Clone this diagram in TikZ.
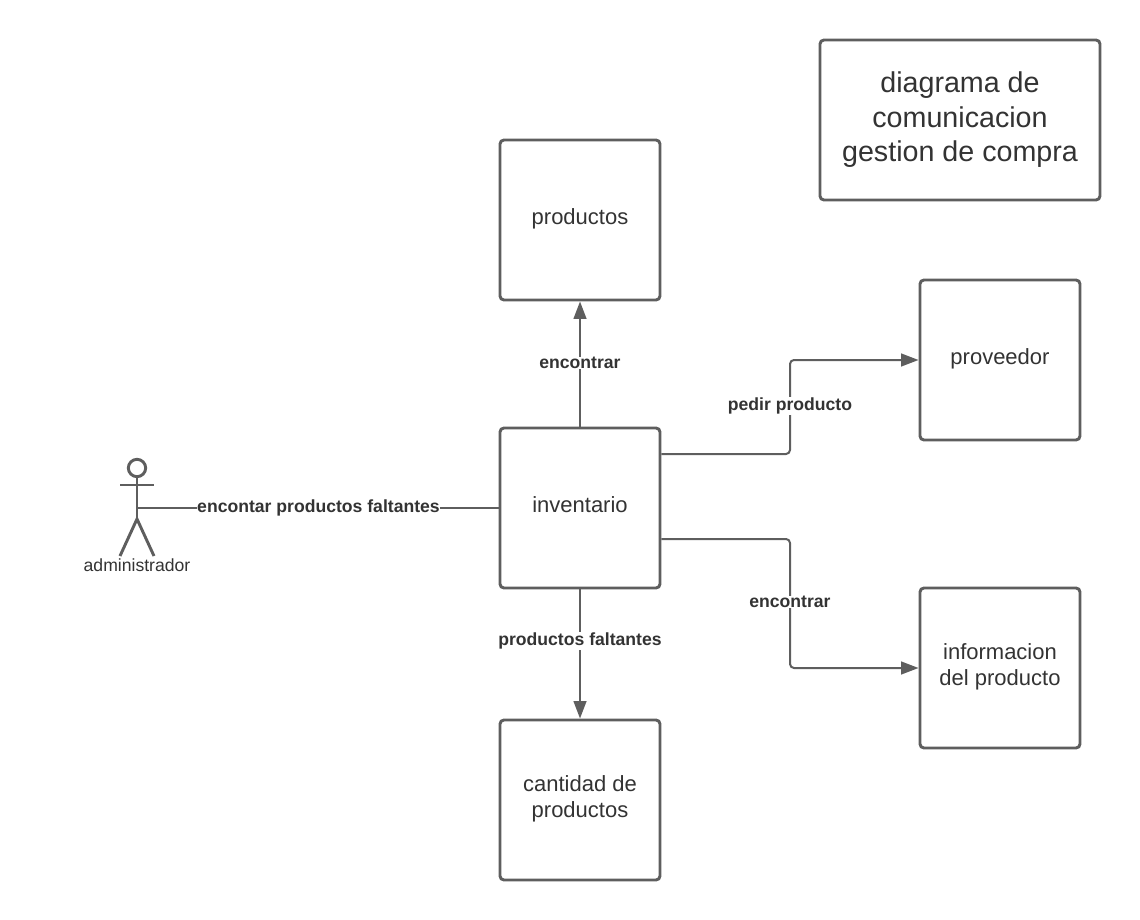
\documentclass[tikz,border=0pt]{standalone}
\usepackage{fontspec}
\setmainfont{Liberation Sans}
\usetikzlibrary{arrows.meta,positioning,calc}
\definecolor{lineGrey}{HTML}{5E5E5E}
\definecolor{textGrey}{HTML}{333333}
\tikzset{
  box/.style={draw=lineGrey,line width=2.2pt,rounded corners=3pt,fill=white,
    minimum width=120pt,minimum height=120pt,inner sep=0pt,align=center,
    text=textGrey,text depth=5pt,font=\fontsize{16.5}{20}\selectfont},
  link/.style={draw=lineGrey,line width=1.5pt,rounded corners=3pt,
    -{Triangle[length=13pt,width=9.5pt]}},
  tag/.style={fill=white,inner sep=0.5pt,text=textGrey,font=\fontsize{13.2}{15}\selectfont\bfseries}
}
\begin{document}
\begin{tikzpicture}[x=0.75pt,y=-0.75pt]
  \useasboundingbox (0,0) rectangle (1140,920);
  \node[box,minimum width=210pt,font=\fontsize{21.5}{26}\selectfont] (title) at (960,120)
    {diagrama de\\comunicacion\\gestion de compra};
  \node[box] (productos) at (580,220) {productos};
  \node[box] (proveedor) at (1000,360) {proveedor};
  \node[box] (inventario) at (580,508) {inventario};
  \node[box] (informacion) at (1000,668) {informacion\\del producto};
  \node[box] (cantidad) at (580,800) {cantidad de\\productos};
  % actor
  \node[circle,draw=lineGrey,line width=2.2pt,minimum size=13pt,inner sep=0pt] (head) at (137,468) {};
  \coordinate (hip) at (137,519);
  \coordinate (hand) at (137,508);
  \draw[lineGrey,line width=2.2pt] (head.south) -- (hip);
  \draw[lineGrey,line width=2.2pt] (120,485) -- (154,485);
  \draw[lineGrey,line width=2.2pt] (120,556) -- (hip) -- (154,556);
  \node[text=textGrey,font=\fontsize{13.2}{15}\selectfont,inner sep=0pt] (admin) at (137,565) {administrador};
  % connectors
  \draw[draw=lineGrey,line width=1.5pt] (hand) -- (inventario.west);
  \node[tag] (t1) at (318.5,508) {encontar productos faltantes};
  \draw[link] (inventario.north) -- (productos.south);
  \node[tag] (t2) at (580,363) {encontrar};
  \draw[link] (inventario.south) -- (cantidad.north);
  \node[tag] (t3) at (580,641) {productos faltantes};
  \coordinate (a1) at (inventario.east |- 0,454);
  \coordinate (a2) at (inventario.east |- 0,539);
  \draw[link] (a1) -| (790,360) -- (proveedor.west);
  \draw[link] (a2) -| (790,668) -- (informacion.west);
  \node[tag] (t4) at (790,406) {pedir producto};
  \node[tag] (t5) at (790,602) {encontrar};
\end{tikzpicture}
\end{document}
